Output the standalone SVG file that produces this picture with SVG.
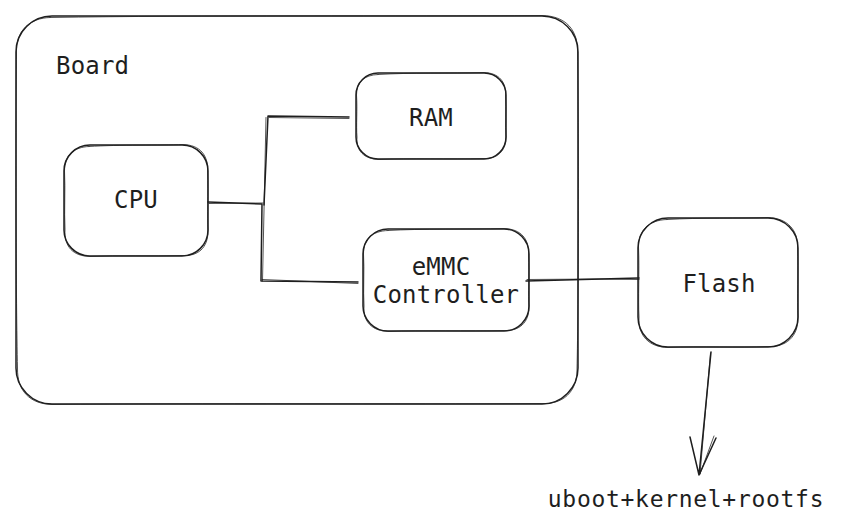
<svg xmlns="http://www.w3.org/2000/svg" width="843" height="531" viewBox="0 0 843 531">
<style>
.b{fill:none;stroke:#1e1e1e;stroke-width:1.5;stroke-linecap:round;stroke-linejoin:round}
.b2{fill:none;stroke:#1e1e1e;stroke-width:0.9;stroke-linecap:round;stroke-linejoin:round;opacity:0.85}
.t{font-family:"DejaVu Sans Mono","Liberation Mono",monospace;font-size:24px;letter-spacing:0.2px;fill:#1e1e1e;text-anchor:middle}
.tl{font-family:"DejaVu Sans Mono","Liberation Mono",monospace;font-size:24px;letter-spacing:0.2px;fill:#1e1e1e}
</style>
<rect width="843" height="531" fill="#ffffff"/>
<g id="board">
<rect class="b" x="16" y="16" width="562" height="388" rx="36" ry="36"/>
<path class="b2" d="M50 17.5 C200 15 400 16.5 542 15.5 C566 16 578 30 577.5 52 C579 150 578.5 300 577 370 C577 392 563 405 540 403.5 C400 404.5 200 403 52 404.5 C30 404 17 391 17.5 368 C16 300 15.5 150 16.5 50 C17 30 30 18 50 17.5"/>
<text class="tl" x="56" y="74">Board</text>
</g>
<g id="cpu">
<rect class="b" x="64" y="145" width="144" height="111" rx="26" ry="26"/>
<path class="b2" d="M89 146.5 C120 144.5 160 145.5 183 144.5 C200 145 208.5 155 207.5 172 C208.5 195 207 215 208 231 C208 248 198 256.5 182 255.5 C150 256.5 120 255 90 256.5 C73 256 64 247 65 229 C64 210 65.5 190 64.5 171 C64.5 155 74 147 89 146.5"/>
<text class="t" x="136" y="208">CPU</text>
</g>
<g id="ram">
<rect class="b" x="356" y="73" width="150" height="86" rx="22" ry="22"/>
<path class="b2" d="M378 74.5 C410 72.5 450 73.5 484 72.5 C499 73 506.5 82 505.5 96 C506.5 110 505 125 506 137 C506 151 497 159.5 483 158.5 C450 159.5 410 158 379 159.5 C364 159 356 151 357 137 C356 125 357.5 110 356.5 95 C356.5 82 364 75 378 74.5"/>
<text class="t" x="431" y="126">RAM</text>
</g>
<g id="emmc">
<rect class="b" x="363" y="229" width="166" height="102" rx="25" ry="25"/>
<path class="b2" d="M388 230.5 C420 228.5 470 229.5 504 228.5 C521 229 529.5 239 528.5 255 C529.5 275 528 295 529 307 C529 323 519 331.5 503 330.5 C470 331.5 420 330 389 331.5 C372 331 363 322 364 306 C363 290 364.5 270 363.5 254 C363.5 239 372 231 388 230.5"/>
<text class="t" x="441" y="275">eMMC</text>
<text class="t" x="446" y="303">Controller</text>
</g>
<g id="flash">
<rect class="b" x="638" y="218" width="160" height="129" rx="30" ry="30"/>
<path class="b2" d="M667 219.5 C700 217.5 740 218.5 768 217.5 C787 218 798.5 230 797.5 248 C798.5 270 797 300 798 318 C798 337 786 347.5 767 346.5 C740 348 700 346 668 347.5 C649 347 638 336 639 317 C638 300 639.5 270 638.5 247 C638.5 230 649 220 667 219.5"/>
<text class="t" x="719" y="292">Flash</text>
</g>
<g id="output-label">
<text class="t" x="686" y="507" style="font-size:23px;letter-spacing:0.7px">uboot+kernel+rootfs</text>
</g>
<g id="connectors">
<path class="b" d="M208 202 L262 204 M264 205 L268 116 L349 117 M262 204 L261 281 L358 282"/>
<path class="b2" d="M209 203.5 L263 203 M262.5 281 L266 117.5 M269 117.5 L349 118.5 M262 279.5 L358 283.5"/>
<path class="b" d="M526 281 L639 278"/>
<path class="b2" d="M527 279.5 L600 279 L639 279.5"/>
<path class="b" d="M711 352 L699 475 M690 437 L699 475 L716 438"/>
<path class="b2" d="M710.5 353 L700 474 M700 474 L714 436"/>
</g>
</svg>
